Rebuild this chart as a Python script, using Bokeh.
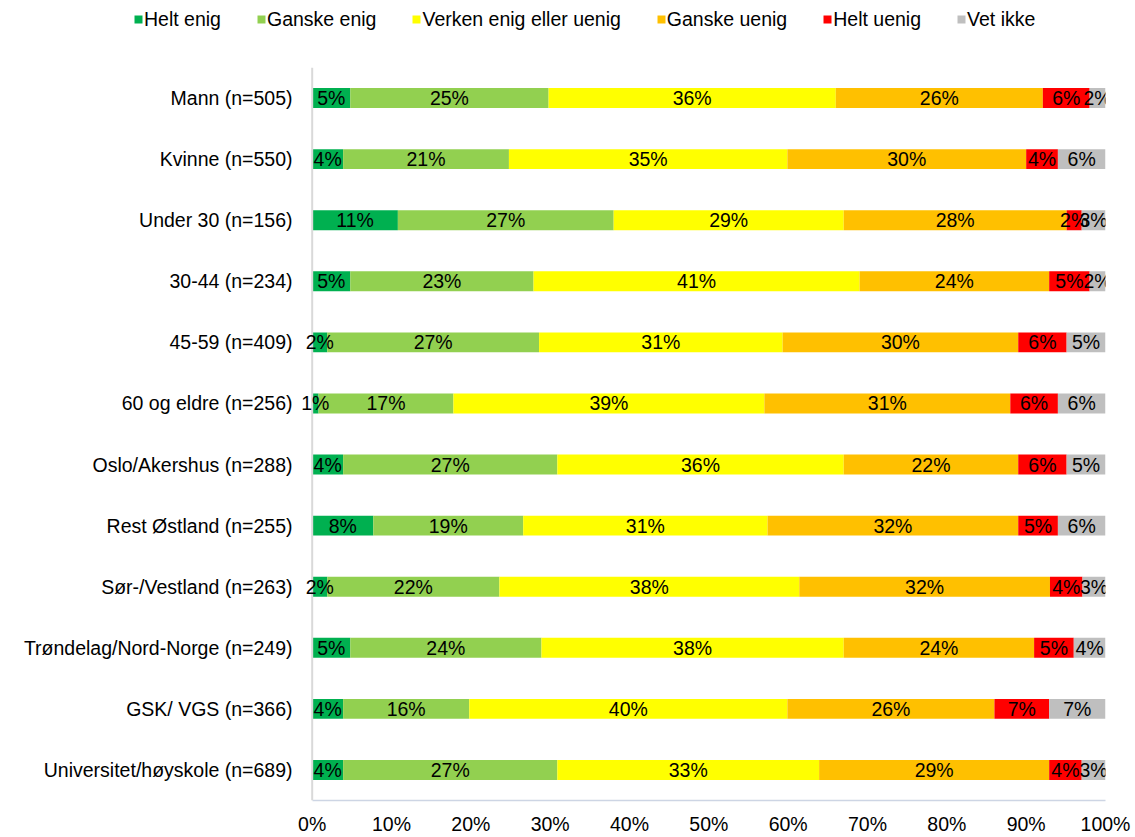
from bokeh.plotting import figure
from bokeh.layouts import column
from bokeh.models import (ColumnDataSource, FactorRange, Range1d, FixedTicker,
                          PrintfTickFormatter, Legend, LegendItem, LabelSet, Span)
from bokeh.core.properties import value
from bokeh.embed import file_html
from bokeh.resources import INLINE

categories = ["Mann (n=505)", "Kvinne (n=550)", "Under 30 (n=156)", "30-44 (n=234)",
              "45-59 (n=409)", "60 og eldre (n=256)", "Oslo/Akershus (n=288)",
              "Rest Østland (n=255)", "Sør-/Vestland (n=263)",
              "Trøndelag/Nord-Norge (n=249)", "GSK/ VGS (n=366)",
              "Universitet/høyskole (n=689)"]

series = ["Helt enig", "Ganske enig", "Verken enig eller uenig", "Ganske uenig",
          "Helt uenig", "Vet ikke"]

helt_enig    = [4.8, 3.9, 10.8, 4.8, 1.9, 0.8, 3.9, 7.7, 1.9, 4.8, 3.9, 3.9]
ganske_enig  = [25.0, 20.9, 27.2, 23.1, 26.7, 17.0, 27.0, 18.9, 21.7, 24.1, 15.9, 27.0]
verken       = [36.2, 35.1, 29.0, 41.1, 30.7, 39.2, 36.1, 30.8, 37.8, 38.1, 40.1, 33.0]
ganske_uenig = [26.1, 30.1, 28.1, 23.9, 29.7, 31.0, 22.0, 31.6, 31.6, 24.0, 26.1, 29.0]
helt_uenig   = [5.9, 4.0, 1.9, 5.1, 6.1, 6.0, 6.1, 5.0, 4.1, 5.0, 6.9, 4.1]
vet_ikke     = [2.0, 6.0, 3.0, 2.0, 4.9, 6.0, 4.9, 6.0, 2.9, 4.0, 7.1, 3.0]

x_ticks = [0, 10, 20, 30, 40, 50, 60, 70, 80, 90, 100]

colors = ["#00b050", "#92d050", "#ffff00", "#ffc000", "#ff0000", "#bfbfbf"]
FONT = "Liberation Sans"
FS = "19.5px"

values = [helt_enig, ganske_enig, verken, ganske_uenig, helt_uenig, vet_ikke]
data = {"cat": categories}
for s, v in zip(series, values):
    data[s] = v
source = ColumnDataSource(data)

# ---------------- main chart ----------------
p = figure(width=1135, height=770, output_backend="svg", toolbar_location=None,
           y_range=FactorRange(factors=list(reversed(categories))),
           x_range=Range1d(-1.6, 100),
           min_border_left=299, min_border_right=30, min_border_top=0,
           min_border_bottom=36)

p.hbar_stack(series, y="cat", height=0.327, color=colors,
             line_color=None, source=source)

# vertical axis line at 0% (drawn before the labels so labels sit on top)
p.add_layout(Span(location=0, dimension="height", line_color="#d9d9d9", line_width=2))

lx, ly, lt = [], [], []
for i, c in enumerate(categories):
    cum = 0.0
    for v in values:
        val = v[i]
        lx.append(cum + val / 2.0)
        ly.append(c)
        lt.append("%d%%" % int(round(val)))
        cum += val
lab_src = ColumnDataSource(dict(x=lx, y=ly, text=lt))
labels = LabelSet(x="x", y="y", text="text", source=lab_src, text_align="center",
                  text_baseline="middle", text_font=value(FONT), text_font_size=value(FS),
                  text_color="black")
p.add_layout(labels)

p.xgrid.visible = False
p.ygrid.visible = False
p.outline_line_color = None

p.xaxis.ticker = FixedTicker(ticks=x_ticks)
p.xaxis.formatter = PrintfTickFormatter(format="%d%%")
p.xaxis.bounds = (0, 100)
p.xaxis.major_tick_line_color = None
p.xaxis.minor_tick_line_color = None
p.xaxis.major_tick_out = 0
p.xaxis.major_tick_in = 0
p.xaxis.axis_line_color = "#cdd5e4"
p.xaxis.axis_line_width = 1.5
p.xaxis.major_label_standoff = 12
p.xaxis.major_label_text_font = FONT
p.xaxis.major_label_text_font_size = FS
p.xaxis.major_label_text_color = "black"

p.yaxis.major_tick_line_color = None
p.yaxis.minor_tick_line_color = None
p.yaxis.major_tick_out = 0
p.yaxis.major_tick_in = 0
p.yaxis.axis_line_color = None
p.yaxis.major_label_standoff = 7
p.yaxis.major_label_text_font = FONT
p.yaxis.major_label_text_font_size = FS
p.yaxis.major_label_text_color = "black"

# ---------------- legend strip ----------------
# zero-height copies of the stacked bars, only used to feed the legend swatches
lg = figure(width=1135, height=67, output_backend="svg", toolbar_location=None,
            x_range=Range1d(0, 100),
            y_range=FactorRange(factors=list(reversed(categories))),
            x_axis_location=None, y_axis_location=None,
            min_border_left=0, min_border_right=0, min_border_top=0,
            min_border_bottom=0)
lg.frame_align = False
lg.xgrid.visible = False
lg.ygrid.visible = False
lg.outline_line_color = None
leg_rs = lg.hbar_stack(series, y="cat", height=0, color=colors,
                       line_color=None, source=source)
legend = Legend(items=[LegendItem(label=s, renderers=[r]) for s, r in zip(series, leg_rs)],
                orientation="horizontal", location=(133, 36.5), padding=0, margin=0,
                spacing=35, glyph_width=10, glyph_height=10, label_standoff=1,
                label_text_font=FONT, label_text_font_size=FS, label_text_color="black",
                border_line_color=None, background_fill_alpha=0)
lg.add_layout(legend)

layout = column(lg, p, spacing=0)
open("out.html", "w").write(file_html(layout, INLINE))
